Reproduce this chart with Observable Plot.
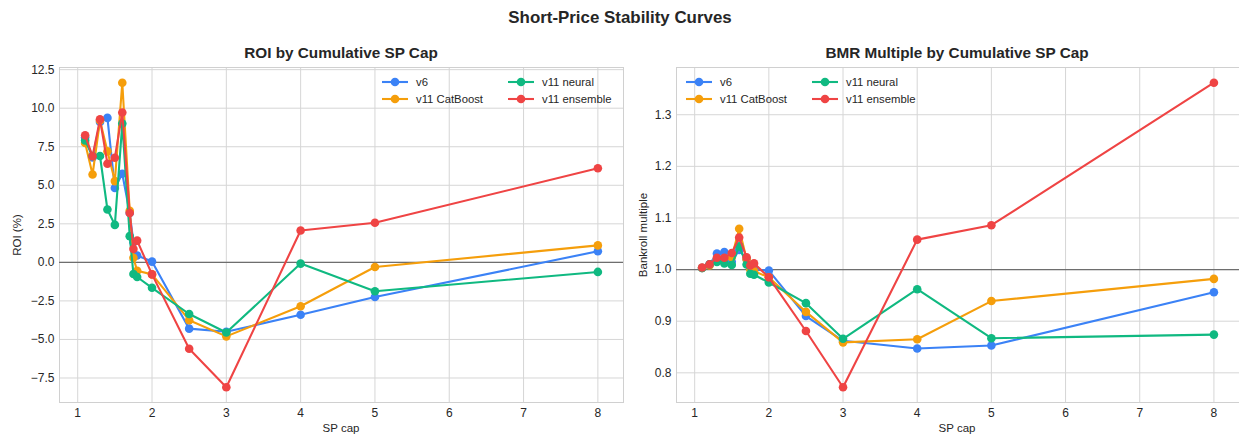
<!DOCTYPE html>
<html><head><meta charset="utf-8">
<script src="https://cdn.jsdelivr.net/npm/d3@7"></script>
<script src="https://cdn.jsdelivr.net/npm/@observablehq/plot@0.6"></script>
<style>
body{margin:0;background:#fff;font-family:"Liberation Sans",Arial,sans-serif;}
#wrap{position:relative;width:1239px;height:435px;overflow:hidden;background:#fff;}
.abs{position:absolute;white-space:nowrap;color:#262626;}
.ctr{transform:translate(-50%,-50%);}
.sup{font-size:16.9px;font-weight:bold;}
.sub{font-size:15.3px;font-weight:bold;}
.lab{font-size:11.5px;}
.rot{transform:translate(-50%,-50%) rotate(-90deg);}
.leg{font-size:11.3px;display:flex;align-items:center;transform:translateY(-50%);}
.leg svg{margin-right:8px;}
svg{position:absolute;top:0;}
</style>
</head><body>
<div id="wrap"></div>
<script>
// ---- data ----
const caps = [1.1, 1.2, 1.3, 1.4, 1.5, 1.6, 1.7, 1.75, 1.8, 2.0, 2.5, 3, 4, 5, 8];
const seriesNames = ["v6", "v11 CatBoost", "v11 neural", "v11 ensemble"];
const seriesColors = ["#3b82f6", "#f59e0b", "#10b981", "#ef4444"];

const roiV6       = [8.1, 6.8, 9.1, 9.37, 4.82, 5.75, 3.2, 1.3, 0.45, 0.05, -4.3, -4.5, -3.4, -2.25, 0.72];
const roiCatBoost = [7.75, 5.7, 9.2, 7.2, 5.27, 11.65, 3.35, 0.3, -0.55, -0.78, -3.75, -4.8, -2.85, -0.3, 1.1];
const roiNeural   = [7.9, 6.9, 6.9, 3.43, 2.43, 9.0, 1.7, -0.75, -0.95, -1.65, -3.35, -4.55, -0.08, -1.87, -0.62];
const roiEnsemble = [8.24, 6.88, 9.28, 6.4, 6.79, 9.72, 3.2, 0.87, 1.41, -0.78, -5.6, -8.1, 2.07, 2.57, 6.1];

const bmrV6       = [1.003, 1.01, 1.031, 1.034, 1.015, 1.038, 1.02, 1.005, 1.0, 0.998, 0.91, 0.862, 0.847, 0.853, 0.956];
const bmrCatBoost = [1.003, 1.008, 1.02, 1.022, 1.024, 1.079, 1.02, 1.0, 0.997, 0.985, 0.918, 0.859, 0.865, 0.939, 0.982];
const bmrNeural   = [1.003, 1.01, 1.015, 1.012, 1.009, 1.045, 1.01, 0.992, 0.99, 0.975, 0.935, 0.866, 0.962, 0.867, 0.874];
const bmrEnsemble = [1.004, 1.01, 1.023, 1.023, 1.032, 1.062, 1.024, 1.008, 1.012, 0.985, 0.881, 0.772, 1.058, 1.086, 1.362];

const xTicks = [1, 2, 3, 4, 5, 6, 7, 8];
const roiTicks = [-7.5, -5.0, -2.5, 0.0, 2.5, 5.0, 7.5, 10.0, 12.5];
const bmrTicks = [0.8, 0.9, 1.0, 1.1, 1.2, 1.3];

const texts = {
  sup: "Short-Price Stability Curves",
  left: "ROI by Cumulative SP Cap",
  right: "BMR Multiple by Cumulative SP Cap",
  xLabel: "SP cap",
  roiLabel: "ROI (%)",
  bmrLabel: "Bankroll multiple"
};

// ---- build ----
const wrap = document.getElementById("wrap");
const fontFam = '"Liberation Sans", Arial, sans-serif';
const fmtMinus = s => s.replace("-", "\u2212");

function panel(values, yDomain, yTicks, yFmt, refY, width, left, marginLeft, marginRight) {
  const marks = [
    Plot.gridX(xTicks, {stroke: "#d6d6d6", strokeOpacity: 1, strokeWidth: 1}),
    Plot.gridY(yTicks, {stroke: "#d6d6d6", strokeOpacity: 1, strokeWidth: 1}),
    Plot.frame({stroke: "#d0d0d0", strokeWidth: 1}),
    Plot.ruleY([refY], {stroke: "#6e6e6e", strokeWidth: 1.1}),
    Plot.axisX(xTicks, {tickSize: 0, tickPadding: 6, label: null, fill: "#262626"}),
    Plot.axisY(yTicks, {tickSize: 0, tickPadding: 5, label: null, fill: "#262626", tickFormat: d => fmtMinus(yFmt(d))})
  ];
  values.forEach((vals, i) => {
    const rows = caps.map((c, j) => ({cap: c, v: vals[j]}));
    marks.push(Plot.line(rows, {x: "cap", y: "v", stroke: seriesColors[i], strokeWidth: 2.1}));
    marks.push(Plot.dot(rows, {x: "cap", y: "v", fill: seriesColors[i], r: 4.3, stroke: "none"}));
  });
  const svg = Plot.plot({
    width, height: 435,
    marginLeft, marginRight, marginTop: 67, marginBottom: 33,
    style: {fontSize: "12px", fontFamily: fontFam, background: "transparent", color: "#262626"},
    x: {domain: [0.755, 8.345]},
    y: {domain: yDomain},
    marks
  });
  svg.style.left = left + "px";
  wrap.appendChild(svg);
}

panel([roiV6, roiCatBoost, roiNeural, roiEnsemble], [-9.09, 12.64], roiTicks, d => d.toFixed(1), 0, 630, 0, 59, 7);
panel([bmrV6, bmrCatBoost, bmrNeural, bmrEnsemble], [0.7425, 1.3915], bmrTicks, d => d.toFixed(1), 1.0, 609, 630, 46, 0);

function addText(txt, cls, x, y) {
  const d = document.createElement("div");
  d.className = "abs " + cls;
  d.style.left = x + "px"; d.style.top = y + "px";
  d.textContent = txt;
  wrap.appendChild(d);
}
addText(texts.sup, "sup ctr", 620, 18);
addText(texts.left, "sub ctr", 341, 53);
addText(texts.right, "sub ctr", 957, 53);
addText(texts.xLabel, "lab ctr", 341, 428);
addText(texts.xLabel, "lab ctr", 957, 428);
addText(texts.roiLabel, "lab rot", 17, 234.5);
addText(texts.bmrLabel, "lab rot", 643, 234.5);

function legend(x0, x1, y0, y1) {
  const pos = [[x0, y0], [x0, y1], [x1, y0], [x1, y1]];
  seriesNames.forEach((name, i) => {
    const d = document.createElement("div");
    d.className = "abs leg";
    d.style.left = pos[i][0] + "px"; d.style.top = pos[i][1] + "px";
    d.innerHTML = `<svg width="26" height="10" style="position:static"><line x1="0" x2="26" y1="5" y2="5" stroke="${seriesColors[i]}" stroke-width="2.1"/><circle cx="13" cy="5" r="4.3" fill="${seriesColors[i]}"/></svg><span></span>`;
    d.querySelector("span").textContent = name;
    wrap.appendChild(d);
  });
}
legend(382, 508, 82, 99);
legend(686, 812, 82, 99);
</script>
</body></html>
